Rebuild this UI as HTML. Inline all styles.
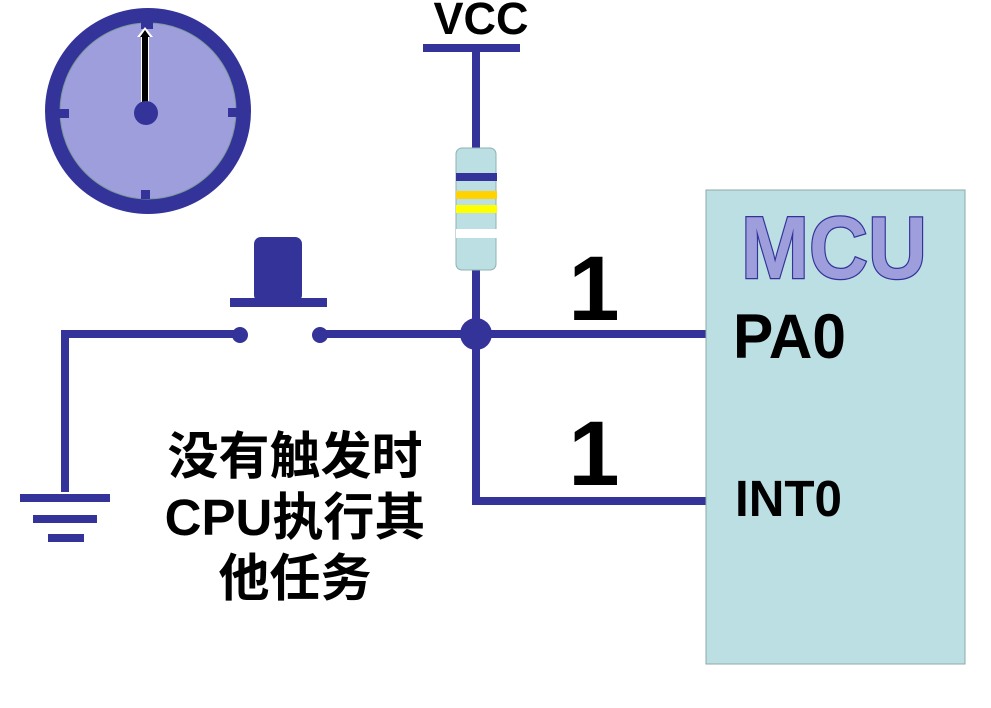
<!DOCTYPE html>
<html><head><meta charset="utf-8"><style>html,body{margin:0;padding:0;background:#fff}svg{display:block}</style></head>
<body>
<svg width="991" height="708" viewBox="0 0 991 708" xmlns="http://www.w3.org/2000/svg">
<!-- clock -->
<circle cx="148" cy="111" r="103" fill="#333399"/>
<circle cx="148" cy="111" r="88" fill="#9e9edc" stroke="#7a9a9a" stroke-width="1"/>
<rect x="141" y="19" width="12" height="10" fill="#333399"/>
<rect x="57" y="109" width="12" height="9" fill="#333399"/>
<rect x="228" y="108" width="12" height="9" fill="#333399"/>
<rect x="141" y="190" width="9" height="9" fill="#333399"/>
<rect x="141" y="36" width="8" height="66" fill="#fff"/>
<rect x="142" y="36" width="6" height="66" fill="#000"/>
<polygon points="145,27 137,37 153,37" fill="#fff"/>
<polygon points="145,30 140,37 150,37" fill="#000"/>
<circle cx="146" cy="113" r="12" fill="#333399"/>
<!-- VCC -->
<text x="481" y="34" font-family="Liberation Sans, sans-serif" font-weight="bold" font-size="45" text-anchor="middle" fill="#000">VCC</text>
<rect x="423" y="44" width="97" height="8" fill="#333399"/>
<rect x="472" y="52" width="8" height="452" fill="#333399"/>
<!-- resistor -->
<rect x="456" y="148" width="40" height="122" rx="6" fill="#bbdfe3" stroke="#8fb0b0" stroke-width="1"/>
<rect x="456" y="173" width="41" height="8" fill="#333399"/>
<rect x="456" y="191" width="41" height="8" fill="#ffd200"/>
<rect x="456" y="205" width="41" height="8" fill="#ffff00"/>
<rect x="456" y="229" width="41" height="9" fill="#fff"/>
<!-- button -->
<rect x="254" y="237" width="48" height="65" rx="7" fill="#333399"/>
<rect x="230" y="298" width="97" height="9" fill="#333399"/>
<!-- wires -->
<rect x="61" y="330" width="179" height="8" fill="#333399"/>
<rect x="61" y="330" width="8" height="162" fill="#333399"/>
<circle cx="240" cy="335" r="8" fill="#333399"/>
<circle cx="320" cy="335" r="8" fill="#333399"/>
<rect x="320" y="330" width="386" height="8" fill="#333399"/>
<circle cx="476" cy="334" r="16" fill="#333399"/>
<rect x="472" y="497" width="234" height="8" fill="#333399"/>
<!-- ground -->
<rect x="20" y="494" width="90" height="8" fill="#333399"/>
<rect x="33" y="515" width="64" height="8" fill="#333399"/>
<rect x="48" y="534" width="36" height="8" fill="#333399"/>
<!-- 1s -->
<text x="594" y="320" font-family="Liberation Sans, sans-serif" font-weight="bold" font-size="92" text-anchor="middle" fill="#000">1</text>
<text x="594" y="485" font-family="Liberation Sans, sans-serif" font-weight="bold" font-size="92" text-anchor="middle" fill="#000">1</text>
<!-- MCU -->
<rect x="706" y="190" width="259" height="474" fill="#bbdfe3" stroke="#8fa8a8" stroke-width="1"/>
<text x="741" y="278" textLength="186" lengthAdjust="spacingAndGlyphs" font-family="Liberation Sans, sans-serif" font-weight="bold" font-size="88" fill="#9e9edc" stroke="#333399" stroke-width="2.5" paint-order="stroke">MCU</text>
<text x="733" y="358" textLength="113" lengthAdjust="spacingAndGlyphs" font-family="Liberation Sans, sans-serif" font-weight="bold" font-size="63" fill="#000">PA0</text>
<text x="735" y="516" textLength="107" lengthAdjust="spacingAndGlyphs" font-family="Liberation Sans, sans-serif" font-weight="bold" font-size="51" fill="#000">INT0</text>
<!-- chinese text -->
<g font-family="Liberation Sans, Noto Sans CJK SC, sans-serif" font-weight="bold" font-size="51" fill="#000" text-anchor="middle">
<text x="295" y="474">没有触发时</text>
<text x="295" y="535">CPU执行其</text>
<text x="295" y="596">他任务</text>
</g>
</svg>
</body></html>
